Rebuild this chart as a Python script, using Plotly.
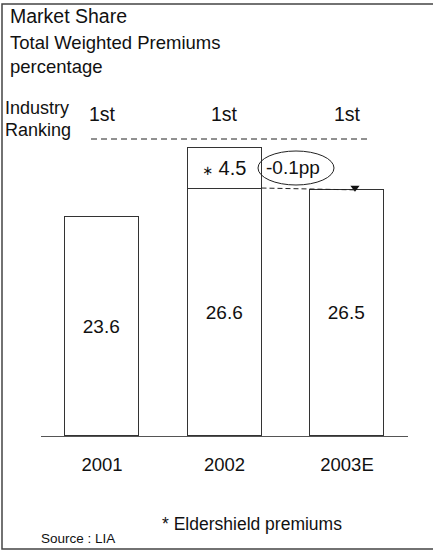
import plotly.graph_objects as go

# ---- data ----
years = ["2001", "2002", "2003E"]
market_share = [23.6, 26.6, 26.5]
eldershield = [None, 4.5, None]
ranking = ["1st", "1st", "1st"]
change_label = "-0.1pp"

W, H = 433, 550
FONT = "Liberation Sans, Arial, sans-serif"
INK = "#111111"
EDGE = "#333333"


def px(x):
    return x / W


def py(y):
    return 1 - y / H


xpos = list(range(len(years)))
bar_w = 0.604

fig = go.Figure()

fig.add_trace(go.Bar(
    x=xpos, y=market_share, width=bar_w,
    marker=dict(color="white", line=dict(color=EDGE, width=1)),
    text=[f"{v:.1f}" for v in market_share],
    textposition="inside", insidetextanchor="middle",
    textfont=dict(family=FONT, size=19, color=INK),
    hoverinfo="skip", showlegend=False,
))

fig.add_trace(go.Bar(
    x=xpos, y=eldershield, width=bar_w,
    marker=dict(color="white", line=dict(color=EDGE, width=1)),
    text=["" if v is None else
          f"<span style='font-family:DejaVu Sans;font-size:13px'>\u2217</span> {v:.1f}"
          for v in eldershield],
    textposition="inside", insidetextanchor="middle",
    textfont=dict(family=FONT, size=20, color=INK),
    hoverinfo="skip", showlegend=False,
))

# change marker between 2002 and 2003E
x_start = xpos[1] + bar_w / 2
x_end = xpos[2] + 0.065
fig.add_shape(type="line", xref="x", yref="y",
              x0=x_start, y0=market_share[1] + 0.15,
              x1=x_end, y1=market_share[2] + 0.05,
              line=dict(color="#222222", width=1, dash="5px,3px"))
fig.add_trace(go.Scatter(
    x=[x_end], y=[market_share[2] + 0.28], mode="markers",
    marker=dict(symbol="triangle-down", size=8, color="#111111"),
    hoverinfo="skip", showlegend=False,
))

fig.add_shape(type="circle", xref="paper", yref="paper",
              x0=px(258), x1=px(334), y0=py(185), y1=py(151),
              line=dict(color="#222222", width=1), fillcolor="rgba(0,0,0,0)")


def label(text, x, y, size, xanchor="left", xref="paper"):
    return dict(text=text, x=x, y=y, xref=xref, yref="paper",
                xanchor=xanchor, yanchor="middle", showarrow=False,
                font=dict(family=FONT, size=size, color=INK))


annotations = [
    label(change_label, px(293), py(168), 19, "center"),
    label("Market Share", px(8), py(16), 19.5),
    label("Total Weighted Premiums", px(8), py(42), 18.5),
    label("percentage", px(8), py(66), 18.5),
    label("Industry", px(3), py(108), 18),
    label("Ranking", px(3), py(130), 18),
    label("* Eldershield premiums", px(252), py(524), 17.5, "center"),
    label("Source : LIA", px(39), py(538), 13.5),
]
for i, r in enumerate(ranking):
    annotations.append(label(r, xpos[i], py(114), 19.5, "center", "x"))

# ranking divider and outer frame
fig.add_shape(type="line", xref="paper", yref="paper",
              x0=px(91), x1=px(370), y0=py(139), y1=py(139),
              line=dict(color="#222222", width=1, dash="6px,4px"))
fig.add_shape(type="rect", xref="paper", yref="paper",
              x0=px(2), x1=1.02, y0=py(549), y1=py(4),
              line=dict(color="#444444", width=1.5), fillcolor="rgba(0,0,0,0)")

fig.update_layout(
    width=W, height=H, margin=dict(l=0, r=0, t=0, b=0),
    paper_bgcolor="white", plot_bgcolor="white",
    barmode="stack", bargap=0,
    annotations=annotations,
    xaxis=dict(domain=[px(40.75), px(408.25)], range=[-0.5, 2.5],
               tickvals=xpos, ticktext=years, ticks="",
               showline=True, linecolor="#555555", linewidth=1,
               showgrid=False, zeroline=False, fixedrange=True,
               ticklabelstandoff=12,
               tickfont=dict(family=FONT, size=18.5, color=INK)),
    yaxis=dict(domain=[py(436), 1], range=[0, 436 / 9.27],
               visible=False, showgrid=False, zeroline=False, fixedrange=True),
)

fig.write_html("out.html")
